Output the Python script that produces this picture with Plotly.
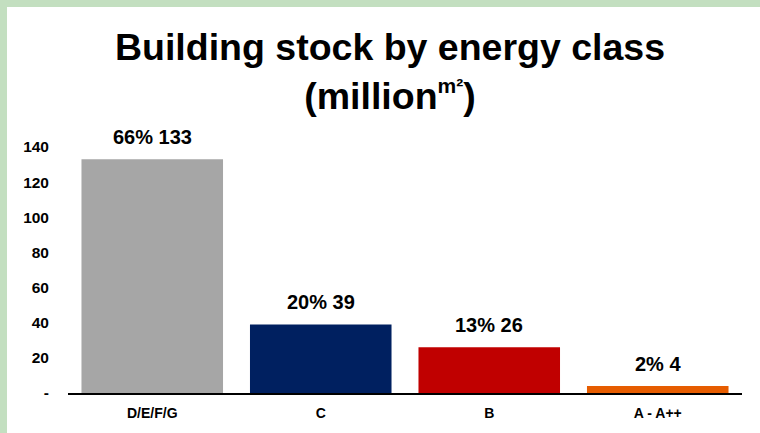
import plotly.graph_objects as go

# Building stock per energy class, million m²
categories = ["D/E/F/G", "C", "B", "A - A++"]
values = [133, 39, 26, 4]
shares = ["66%", "20%", "13%", "2%"]
bar_colors = ["#a6a6a6", "#002060", "#c00000", "#e65c00"]
y_ticks = [0, 20, 40, 60, 80, 100, 120, 140]
y_tick_labels = ["-", "20", "40", "60", "80", "100", "120", "140"]

W, H = 760, 433
ML, MR, MT, MB = 68, 18, 147, 40
pw, ph = W - ML - MR, H - MT - MB
FONT = "Liberation Sans, Arial, sans-serif"

fig = go.Figure(go.Bar(
    x=categories,
    y=values,
    marker=dict(color=bar_colors, line=dict(width=0)),
    cliponaxis=False,
    hoverinfo="x+y",
))

# value labels above each bar: share and area
for cat, share, val in zip(categories, shares, values):
    fig.add_annotation(
        x=cat, y=val, xref="x", yref="y",
        text=f"<b>{share} {val}</b>", showarrow=False,
        yanchor="bottom", yshift=9,
        font=dict(family=FONT, size=20, color="#000000"),
    )

# green frame along the top and left edges
frame = "#c3dfc0"
px = lambda x: (x - ML) / pw
py = lambda y: (MT + ph - y) / ph
fig.add_shape(type="rect", xref="paper", yref="paper", layer="below",
              x0=px(-5), x1=px(W + 5), y0=py(7), y1=py(-5),
              fillcolor=frame, line=dict(width=0))
fig.add_shape(type="rect", xref="paper", yref="paper", layer="below",
              x0=px(-5), x1=px(7), y0=py(H + 5), y1=py(-5),
              fillcolor=frame, line=dict(width=0))

fig.update_layout(
    width=W, height=H,
    margin=dict(l=ML, r=MR, t=MT, b=MB, autoexpand=False),
    paper_bgcolor="white",
    plot_bgcolor="rgba(0,0,0,0)",
    bargap=0.16,
    showlegend=False,
    font=dict(family=FONT, color="#000000"),
    title=dict(
        text="<b>Building stock by energy class<br>(million"
             "<sup><span style='font-size:21px'>m²</span></sup>)</b>",
        font=dict(family=FONT, size=37.5, color="#000000"),
        x=390 / W, xanchor="center",
        y=1 - 60 / H, yanchor="top",
    ),
    xaxis=dict(
        range=[-0.5, 3.5],
        showline=True, linecolor="#000000", linewidth=2,
        showgrid=False, ticks="",
        ticklabelstandoff=6,
        tickfont=dict(size=14, family=FONT),
        tickprefix="<b>", ticksuffix="</b>",
    ),
    yaxis=dict(
        range=[0, 140],
        tickvals=y_ticks, ticktext=[f"<b>{t}</b>" for t in y_tick_labels],
        showgrid=False, zeroline=False, showline=False, ticks="",
        ticklabelstandoff=18,
        tickfont=dict(size=15.5, family=FONT),
    ),
)

fig.write_html("out.html")
